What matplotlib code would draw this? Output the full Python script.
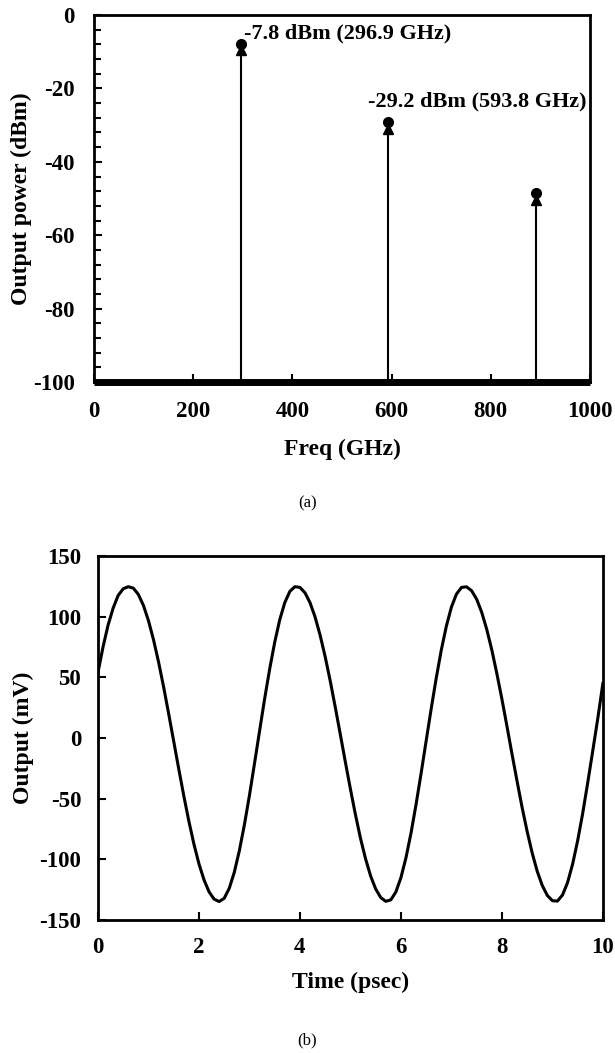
import numpy as np
import matplotlib
matplotlib.use('Agg')
import matplotlib.pyplot as plt
from matplotlib.ticker import MultipleLocator

plt.rcParams['font.family'] = ['Liberation Serif', 'DejaVu Serif']
plt.rcParams['axes.unicode_minus'] = False

# ---------------- data: (a) spectrum ----------------
harm_freq_ghz = [296.9, 593.8, 890.7]
harm_power_dbm = [-7.8, -29.2, -48.5]
harm_power_tri_dbm = [-9.6, -31.0, -50.4]
floor_freq_ghz = [0, 1000]
floor_power_dbm = [-100, -100]
annot_text = ['-7.8 dBm (296.9 GHz)', '-29.2 dBm (593.8 GHz)']

freq_ticks = [0, 200, 400, 600, 800, 1000]
power_ticks = [0, -20, -40, -60, -80, -100]

# ---------------- data: (b) time waveform ----------------
time_ps = np.round(np.arange(101) * 0.1, 1)
output_mv = [
    54.0, 75.0, 93.0, 107.0, 117.5, 123.0, 124.7, 123.5, 118.3, 109.3,
    96.7, 81.0, 62.6, 42.1, 20.0, -2.7, -25.5, -47.7, -68.5, -87.4,
    -103.7, -116.9, -126.8, -132.8, -134.8, -132.1, -123.9, -110.7, -92.9, -71.5,
    -47.3, -21.0, 5.6, 32.1, 56.7, 78.8, 97.4, 111.6, 120.8, 124.7,
    124.1, 119.7, 111.5, 99.7, 84.7, 67.0, 47.0, 25.3, 2.9, -19.9,
    -42.1, -63.3, -82.8, -99.6, -113.7, -124.4, -131.5, -134.6, -133.4, -126.9,
    -115.1, -98.7, -78.3, -54.7, -29.1, -2.3, 24.2, 49.5, 72.6, 92.2,
    107.9, 118.6, 124.1, 124.6, 121.4, 114.4, 103.6, 89.5, 72.6, 53.1,
    32.1, 9.7, -13.2, -35.5, -57.2, -77.0, -94.8, -109.9, -121.6, -129.8,
    -134.1, -134.4, -129.4, -119.2, -104.0, -84.7, -62.1, -36.8, -10.4, 16.4,
    45.0,
]
time_ticks = [0, 2, 4, 6, 8, 10]
mv_ticks = [150, 100, 50, 0, -50, -100, -150]

FS_TICK = 16.5
FS_LAB = 17
FS_ANN = 16

fig = plt.figure(figsize=(6.15, 10.53), dpi=100)

# ---------------- panel (a) ----------------
ax1 = fig.add_axes([0.1528, 0.6372, 0.8065, 0.3485])
ax1.set_xlim(0, 1000)
ax1.set_ylim(-100, 0)
ax1.vlines(harm_freq_ghz, -100, harm_power_dbm, color='black', lw=1.5, zorder=2)
ax1.plot(harm_freq_ghz, harm_power_tri_dbm, '^', color='black', ms=7, zorder=3)
ax1.plot(harm_freq_ghz, harm_power_dbm, 'o', color='black', ms=7, zorder=4)
ax1.plot(floor_freq_ghz, floor_power_dbm, color='black', lw=5,
         solid_capstyle='butt', clip_on=False, zorder=5)

ax1.annotate(annot_text[0], xy=(harm_freq_ghz[0], harm_power_dbm[0]),
             xytext=(2, 7), textcoords='offset points', ha='left', va='center',
             fontsize=FS_ANN, fontweight='bold')
ax1.annotate(annot_text[1], xy=(harm_freq_ghz[1], harm_power_dbm[1]),
             xytext=(-15, 15), textcoords='offset points', ha='left', va='center',
             fontsize=FS_ANN, fontweight='bold')

ax1.set_xticks(freq_ticks)
ax1.set_yticks(power_ticks)
ax1.yaxis.set_minor_locator(MultipleLocator(4))
ax1.tick_params(axis='both', which='both', direction='in', labelsize=FS_TICK,
                width=1.5, pad=14)
ax1.tick_params(axis='both', which='major', length=6)
ax1.tick_params(axis='y', which='minor', length=5)
ax1.tick_params(top=False, right=False, which='both')
for lab in ax1.get_xticklabels() + ax1.get_yticklabels():
    lab.set_fontweight('bold')
for sp in ax1.spines.values():
    sp.set_linewidth(2)
ax1.set_xlabel('Freq (GHz)', fontsize=FS_LAB, fontweight='bold')
ax1.set_ylabel('Output power (dBm)', fontsize=FS_LAB, fontweight='bold')
ax1.xaxis.set_label_coords(0.5, -0.155)
ax1.yaxis.set_label_coords(-0.125, 0.5)

fig.text(0.5, 1 - 503 / 1053, '(a)', ha='center', va='center', fontsize=12)

# ---------------- panel (b) ----------------
ax2 = fig.add_axes([0.1593, 0.1263, 0.821, 0.3457])
ax2.set_xlim(0, 10)
ax2.set_ylim(-150, 150)
ax2.plot(time_ps, output_mv, color='black', lw=2.2)
ax2.set_xticks(time_ticks)
ax2.set_yticks(mv_ticks)
ax2.tick_params(axis='both', which='major', direction='in', labelsize=FS_TICK,
                width=1.5, length=6, pad=12, top=False, right=False)
for lab in ax2.get_xticklabels() + ax2.get_yticklabels():
    lab.set_fontweight('bold')
for sp in ax2.spines.values():
    sp.set_linewidth(2)
ax2.set_xlabel('Time (psec)', fontsize=FS_LAB, fontweight='bold')
ax2.set_ylabel('Output (mV)', fontsize=FS_LAB, fontweight='bold')
ax2.xaxis.set_label_coords(0.5, -0.143)
ax2.yaxis.set_label_coords(-0.126, 0.5)

fig.text(0.5, 1 - 1040 / 1053, '(b)', ha='center', va='center', fontsize=12)

fig.savefig('out.png', dpi=100)
